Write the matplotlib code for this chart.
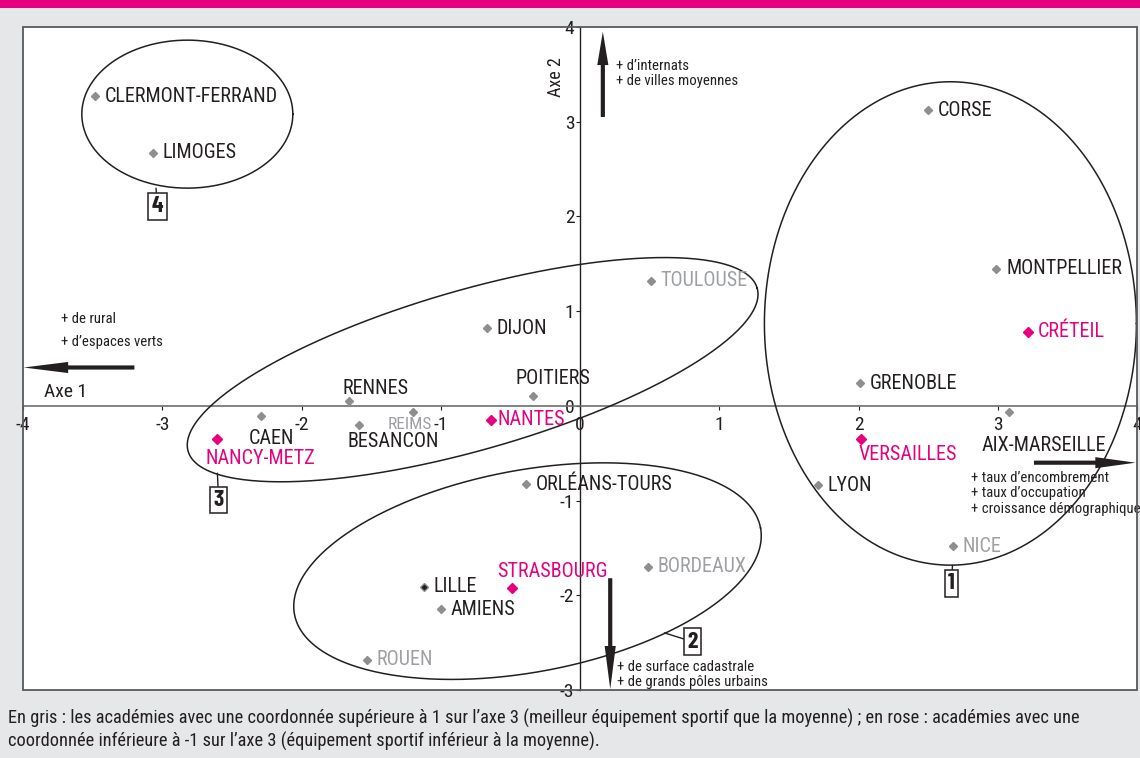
import matplotlib
matplotlib.use("Agg")
import matplotlib.pyplot as plt
from matplotlib.patches import Rectangle
import numpy as np

plt.rcParams['font.family'] = ['Roboto Condensed', 'Archivo Narrow', 'DejaVu Sans']
plt.rcParams['axes.unicode_minus'] = False

INK = '#231f20'
GREY_MK = '#8d8e90'
GREY_TXT = '#9d9fa2'
ROSE = '#e6007e'
BG = '#e6e7e8'

# academies: coordinates on axis 1 / axis 2 and colour group
names = ["CLERMONT-FERRAND", "LIMOGES", "CORSE", "MONTPELLIER", "CRÉTEIL",
         "GRENOBLE", "AIX-MARSEILLE", "VERSAILLES", "LYON", "NICE",
         "TOULOUSE", "DIJON", "POITIERS", "NANTES", "REIMS",
         "ORLÉANS-TOURS", "RENNES", "BESANCON", "CAEN", "NANCY-METZ",
         "LILLE", "STRASBOURG", "AMIENS", "BORDEAUX", "ROUEN"]
axe1 = [-3.48, -3.07, 2.50, 2.99, 3.22,
        2.01, 3.08, 2.02, 1.71, 2.68,
        0.51, -0.67, -0.34, -0.64, -1.20,
        -0.39, -1.66, -1.59, -2.29, -2.61,
        -1.12, -0.49, -1.00, 0.49, -1.53]
axe2 = [3.27, 2.67, 3.12, 1.45, 0.78,
        0.24, -0.07, -0.35, -0.84, -1.48,
        1.32, 0.82, 0.10, -0.15, -0.06,
        -0.83, 0.05, -0.20, -0.11, -0.35,
        -1.91, -1.92, -2.15, -1.70, -2.68]
# n = normal, g = grey (axe 3 > 1), r = rose (axe 3 < -1), l = lille
groups = ["n", "n", "n", "n", "r",
          "n", "n", "r", "n", "g",
          "g", "n", "n", "r", "g",
          "n", "n", "n", "n", "r",
          "l", "r", "n", "g", "g"]

# label placement (offset in points from the marker); default is to the right
label_offsets = {
    "RENNES": (-4.3, 9.4), "BESANCON": (-7.9, -12.3), "CAEN": (-8.6, -15.8),
    "NANCY-METZ": (-7.9, -13.7), "REIMS": (-18, -9.0), "POITIERS": (-12, 12.7),
    "AIX-MARSEILLE": (-19.4, -23.8), "VERSAILLES": (-2.2, -11.5),
    "STRASBOURG": (-10.8, 11.5), "NANTES": (4.6, 0.5),
}

# ellipses: centre (data), semi-axes (px), tilt (deg)
ellipses = [((-2.82, 3.08), 105.5, 74, 0),
            ((2.66, 0.87), 186, 241.7, 0),
            ((-0.771, 0.382), 296, 80, 16),
            ((-0.377, -1.745), 237, 101, 10.5)]
# group boxes: number, point on ellipse, box centre (data)
boxes = [("4", (-3.045, 2.298), (-3.034, 2.108)),
         ("3", (-2.604, -0.711), (-2.595, -0.996)),
         ("1", (2.675, -1.682), (2.667, -1.875)),
         ("2", (0.606, -2.397), (0.809, -2.490))]

fig = plt.figure(figsize=(11.4, 7.58), dpi=100, facecolor=BG)
fig.patches.append(Rectangle((0, 1 - 8 / 758), 1, 8 / 758, transform=fig.transFigure,
                             facecolor=ROSE, edgecolor='none'))
ax = fig.add_axes([23 / 1140, 68 / 758, 1114 / 1140, 663 / 758])
ax.set_xlim(-4, 4)
ax.set_ylim(-3, 4)
ax.set_facecolor('white')

for side in ['top', 'right']:
    ax.spines[side].set_visible(False)
ax.spines['left'].set_position(('data', 0))
ax.spines['bottom'].set_position(('data', 0))
ax.spines['left'].set_color(INK)
ax.spines['bottom'].set_color('#6d6e70')
ax.spines['left'].set_linewidth(1.0)
ax.spines['bottom'].set_linewidth(1.2)
ax.add_patch(Rectangle((0, 0), 1, 1, transform=ax.transAxes, fill=False,
                       edgecolor='#58595b', lw=1.3, clip_on=False, zorder=5))

ax.set_xticks(range(-4, 5))
ax.set_yticks(range(-3, 5))
ax.tick_params(axis='both', direction='out', length=3, width=0.8, colors=INK,
               labelsize=14, pad=4)
ax.tick_params(axis='y', pad=1)

# points and labels
for nm, x, y, g in zip(names, axe1, axe2, groups):
    if g == 'r':
        ax.plot(x, y, marker='D', ms=5.2, color=ROSE, mec=ROSE, zorder=4)
        tc = ROSE
    elif g == 'l':
        ax.plot(x, y, marker='D', ms=4.2, mfc=INK, mec=GREY_MK, mew=1, zorder=4)
        tc = INK
    else:
        ax.plot(x, y, marker='D', ms=4.2, color=GREY_MK, mec=GREY_MK, zorder=4)
        tc = GREY_TXT if g == 'g' else INK
    dx, dy = label_offsets.get(nm, (7, 0))
    ax.annotate(nm, (x, y), xytext=(dx, dy), textcoords='offset points',
                ha='left', va='center', color=tc,
                fontsize=12.5 if nm == "REIMS" else 14.5, zorder=4)

# ellipses drawn in pixel space
fig.canvas.draw()
bb = ax.get_window_extent()
sx = bb.width / 8
sy = bb.height / 7
t = np.linspace(0, 2 * np.pi, 400)
for (cx, cy), a, b, ang in ellipses:
    th = np.radians(ang)
    ex = cx + (a * np.cos(th) * np.cos(t) - b * np.sin(th) * np.sin(t)) / sx
    ey = cy + (a * np.sin(th) * np.cos(t) + b * np.cos(th) * np.sin(t)) / sy
    ax.plot(ex, ey, color=INK, lw=1.1, zorder=3)

for num, pt, bc in boxes:
    ax.annotate(num, pt, xytext=bc, textcoords='data', ha='center', va='center',
                fontsize=17, fontweight='bold', color=INK,
                family=['Barlow Condensed', 'Roboto Condensed', 'DejaVu Sans'],
                bbox=dict(boxstyle='square,pad=0.14', fc='white', ec=INK, lw=1.1),
                arrowprops=dict(arrowstyle='-', color=INK, lw=1.0,
                                shrinkA=0, shrinkB=0), zorder=6)

# axis direction arrows
arrows = [((-3.20, 0.405), (-3.995, 0.405), 3.2),
          ((0.164, 3.05), (0.164, 3.95), 2.4),
          ((3.26, -0.60), (3.99, -0.60), 2.9),
          ((0.217, -1.82), (0.217, -2.99), 3.1)]
for tail, tip, hl in arrows:
    ax.annotate('', xy=tip, xytext=tail,
                arrowprops=dict(arrowstyle='simple,head_length=%s,head_width=0.8,tail_width=0.3' % hl,
                                fc=INK, ec='none', lw=0, shrinkA=0, shrinkB=0,
                                mutation_scale=10), zorder=6)

ax.text(-0.17, 3.47, "Axe 2", rotation=90, ha='center', va='center',
        fontsize=13, color=INK)
ax.text(-3.85, 0.15, "Axe 1", ha='left', va='center', fontsize=14, color=INK)
ax.text(0.255, 3.505, "+ d’internats\n+ de villes moyennes", ha='left',
        va='center', fontsize=10.6, color=INK, linespacing=1.1)
ax.text(-3.73, 0.92, "+ de rural", ha='left', va='center', fontsize=10.6, color=INK)
ax.text(-3.73, 0.67, "+ d’espaces verts", ha='left', va='center', fontsize=10.6, color=INK)
ax.text(2.81, -0.925, "+ taux d’encombrement\n+ taux d’occupation\n+ croissance démographique",
        ha='left', va='center', fontsize=10.6, color=INK, linespacing=1.1)
ax.text(0.264, -2.835, "+ de surface cadastrale\n+ de grands pôles urbains",
        ha='left', va='center', fontsize=10.6, color=INK, linespacing=1.1)

fig.text(8 / 1140, 1 - 718 / 758,
         "En gris : les académies avec une coordonnée supérieure à 1 sur l’axe 3 "
         "(meilleur équipement sportif que la moyenne) ; en rose : académies avec une",
         ha='left', va='center', fontsize=13.2, color=INK)
fig.text(8 / 1140, 1 - 741 / 758,
         "coordonnée inférieure à -1 sur l’axe 3 (équipement sportif inférieur à la moyenne).",
         ha='left', va='center', fontsize=13.2, color=INK)

fig.savefig("out.png", dpi=100, facecolor=BG)
